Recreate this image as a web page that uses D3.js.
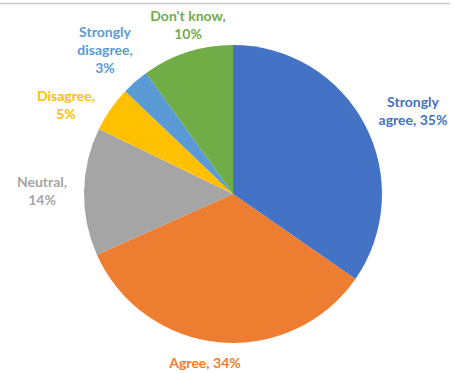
<!DOCTYPE html>
<html>
<head>
<meta charset="utf-8">
<script src="https://cdn.jsdelivr.net/npm/d3@7"></script>
<style>
  html, body { margin: 0; padding: 0; background: #ffffff; }
  svg { display: block; }
</style>
</head>
<body>
<svg id="chart" width="454" height="373"></svg>
<script>
// Survey responses, drawn clockwise from 12 o'clock
const categories = ["Strongly agree", "Agree", "Neutral", "Disagree", "Strongly disagree", "Don't know"];
const percents = [35, 34, 14, 5, 3, 10];
const colors = ["#4472C4", "#ED7D31", "#A5A5A5", "#FFC000", "#5B9BD5", "#70AD47"];
// Label text split into lines, plus anchor point for each label block
const labelLines = [
  ["Strongly", "agree, 35%"],
  ["Agree, 34%"],
  ["Neutral,", "14%"],
  ["Disagree,", "5%"],
  ["Strongly", "disagree,", "3%"],
  ["Don't know,", "10%"]
];
const labelPos = [[413, 107], [205, 368], [42, 187], [66, 101], [105, 37], [188, 21]];

const svg = d3.select("#chart");
const cx = 233, cy = 194, r = 149;

// thin frame line along the top edge
svg.append("line")
  .attr("x1", 0).attr("x2", 450)
  .attr("y1", 3.5).attr("y2", 3.5)
  .attr("stroke", "#c8c8c8").attr("stroke-width", 1.5);

const data = categories.map((c, i) => ({ name: c, value: percents[i], color: colors[i], lines: labelLines[i], pos: labelPos[i] }));

const pie = d3.pie().value(d => d.value).sort(null);
const arc = d3.arc().innerRadius(0).outerRadius(r);

const g = svg.append("g").attr("transform", `translate(${cx},${cy})`);
g.selectAll("path")
  .data(pie(data))
  .join("path")
  .attr("d", arc)
  .attr("fill", d => d.data.color);

// category labels in matching colours
const labels = svg.append("g")
  .attr("font-family", "Lato, 'Open Sans', sans-serif")
  .attr("font-weight", "bold")
  .attr("font-size", 14)
  .attr("text-anchor", "middle");

data.forEach(d => {
  const t = labels.append("text")
    .attr("x", d.pos[0]).attr("y", d.pos[1])
    .attr("fill", d.color);
  d.lines.forEach((line, k) => {
    t.append("tspan")
      .attr("x", d.pos[0])
      .attr("dy", k === 0 ? 0 : 18)
      .text(line);
  });
});
</script>
</body>
</html>
